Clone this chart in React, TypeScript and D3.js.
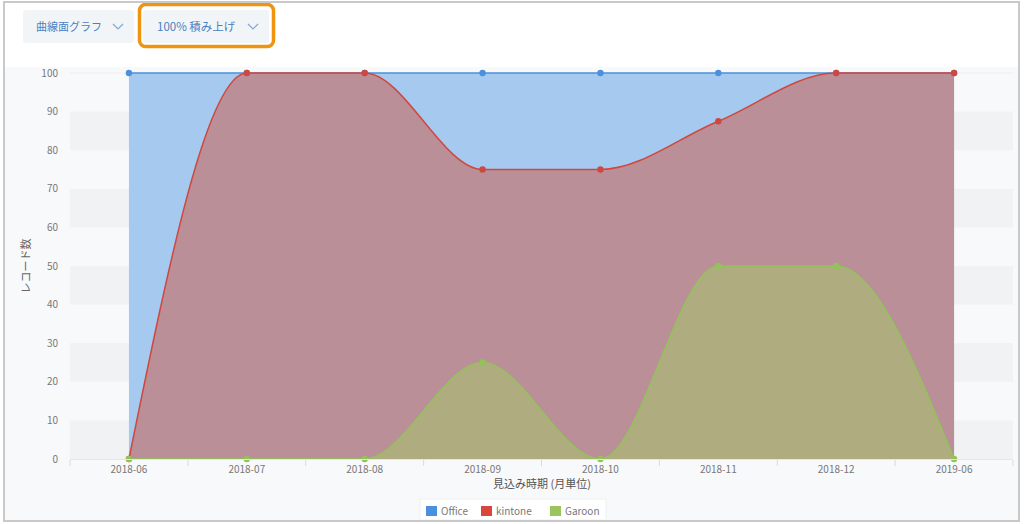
import React from "react";
import * as d3 from "d3";

const categories = ["2018-06", "2018-07", "2018-08", "2018-09", "2018-10", "2018-11", "2018-12", "2019-06"];
// percentage shares (100% stacked)
const officeValues = [100, 0, 0, 25, 25, 12.5, 0, 0];
const kintoneValues = [0, 100, 100, 50, 75, 37.5, 50, 100];
const garoonValues = [0, 0, 0, 25, 0, 50, 50, 0];
const yTicks = [0, 10, 20, 30, 40, 50, 60, 70, 80, 90, 100];
const seriesNames = ["Office", "kintone", "Garoon"];

const W = 1024, H = 524;
const FONT = "'Noto Sans CJK JP', 'Noto Sans', sans-serif";

export default function App() {
  const x = d3.scaleBand<string>().domain(categories).range([70, 1013]);
  const cx = (c: string) => (x(c) as number) + x.bandwidth() / 2;
  const y = d3.scaleLinear().domain([0, 100]).range([459, 73]);

  const rows = categories.map((c, i) => ({
    c,
    Garoon: garoonValues[i],
    kintone: kintoneValues[i],
    Office: officeValues[i],
  }));
  const stack = d3.stack<any>().keys(["Garoon", "kintone", "Office"]);
  const stacked = stack(rows);
  const byKey: Record<string, any> = {};
  stacked.forEach((s) => (byKey[s.key] = s));

  const styles: Record<string, { fill: string; line: string }> = {
    Office: { fill: "#a6caef", line: "#4a90dc" },
    kintone: { fill: "#bb8f98", line: "#d0473e" },
    Garoon: { fill: "#afad7f", line: "#94c25a" },
  };
  const legendColors: Record<string, string> = {
    Office: "#4a90dc",
    kintone: "#d9463c",
    Garoon: "#9cc45e",
  };

  const area = d3
    .area<any>()
    .x((d: any) => cx(d.data.c))
    .y0(y(0))
    .y1((d: any) => y(d[1]))
    .curve(d3.curveMonotoneX);
  const line = d3
    .line<any>()
    .x((d: any) => cx(d.data.c))
    .y((d: any) => y(d[1]))
    .curve(d3.curveMonotoneX);

  const drawOrder = ["Office", "kintone", "Garoon"];
  const bandEdges = categories.map((c) => x(c) as number).concat([1013]);

  return (
    <svg width={W} height={H} style={{ position: "absolute", left: 0, top: 0 }} fontFamily={FONT}>
      <rect x={0} y={0} width={W} height={H} fill="#ffffff" />
      {/* chart background */}
      <rect x={5} y={67} width={1014} height={453} fill="#f8f9fb" />
      {/* toolbar */}
      <rect x={23} y={10} width={111} height={33} rx={3} fill="#f2f5f8" />
      <text x={36} y={31} fontSize={11} fill="#4a7fc1">曲線面グラフ</text>
      <path d="M113,24 l5,5 l5,-5" fill="none" stroke="#7fa6d4" strokeWidth={1.2} />
      <rect x={143} y={10} width={126} height={33} rx={3} fill="#f2f5f8" />
      <text x={157} y={31} fontSize={11.5} fill="#4a7fc1">100% 積み上げ</text>
      <path d="M248,24 l5,5 l5,-5" fill="none" stroke="#7fa6d4" strokeWidth={1.2} />
      <rect x={139.5} y={4.5} width={134} height={42} rx={6} fill="none" stroke="#f0930f" strokeWidth={3.5} />
      {/* bands */}
      {yTicks.slice(0, -1).map((t, i) =>
        i % 2 === 0 ? (
          <rect key={t} x={70} y={y(t + 10)} width={943} height={y(t) - y(t + 10)} fill="#f1f2f4" />
        ) : null
      )}
      <line x1={70} x2={1013} y1={y(100)} y2={y(100)} stroke="#eceef1" strokeWidth={1} />
      {/* y axis labels */}
      {yTicks.map((t) => (
        <text key={t} x={58} y={y(t) + 3.5} fontSize={10} fill="#777" textAnchor="end">
          {t}
        </text>
      ))}
      <text
        transform={`translate(30,${y(50)}) rotate(-90)`}
        fontSize={11}
        fill="#666"
        textAnchor="middle"
      >
        レコード数
      </text>
      {/* areas */}
      {drawOrder.map((k) => (
        <path key={"a" + k} d={area(byKey[k]) as string} fill={styles[k].fill} />
      ))}
      {drawOrder.map((k) => (
        <path key={"l" + k} d={line(byKey[k]) as string} fill="none" stroke={styles[k].line} strokeWidth={1.5} />
      ))}
      {drawOrder.map((k) =>
        byKey[k].map((d: any, i: number) => (
          <circle key={k + i} cx={cx(d.data.c)} cy={y(d[1])} r={3.2} fill={styles[k].line} />
        ))
      )}
      {/* x axis */}
      <line x1={70} x2={1013} y1={459.5} y2={459.5} stroke="#e3e5e8" />
      {bandEdges.map((e, i) => (
        <line key={i} x1={e} x2={e} y1={460} y2={466} stroke="#d8dadd" />
      ))}
      {categories.map((c) => (
        <text key={c} x={cx(c)} y={473} fontSize={10} fill="#777" textAnchor="middle">
          {c}
        </text>
      ))}
      <text x={542} y={488} fontSize={11} fill="#555" textAnchor="middle">
        見込み時期 (月単位)
      </text>
      {/* legend */}
      <rect x={420} y={499} width={186} height={21} fill="#ffffff" stroke="#eef0f2" />
      {seriesNames.map((n, i) => {
        const lx = [426, 481, 550][i];
        return (
          <g key={n}>
            <rect x={lx} y={506} width={11} height={10} fill={legendColors[n]} />
            <text x={lx + 15} y={515} fontSize={10} fill="#777">
              {n}
            </text>
          </g>
        );
      })}
      {/* frame */}
      <rect x={4} y={2} width={1015} height={519} fill="none" stroke="#c9c9c9" strokeWidth={2} />
    </svg>
  );
}
